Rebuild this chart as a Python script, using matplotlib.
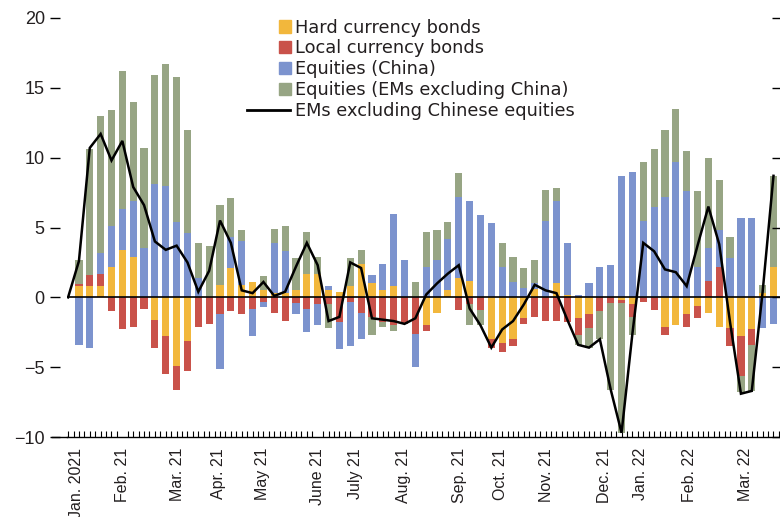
import matplotlib
matplotlib.use("Agg")
import matplotlib.pyplot as plt
import numpy as np
from matplotlib.patches import Patch, Rectangle
from matplotlib.lines import Line2D
from matplotlib.legend_handler import HandlerPatch

# ---- data (weekly, index 0 = start, no bar) ----
weeks = list(range(66))
hard_ccy = [0, 0.8, 0.8, 0.8, 2.2, 3.4, 2.9, 0.0, -1.6, -2.8, -4.9, -3.1, 0.0, 0.0, 0.9, 2.1,
            0.9, 1.1, 0.5, 0.3, 0.3, 0.5, 1.7, 1.7, 0.5, 0.4, 0.8, 2.4, 1.0, 0.5, 0.8, 0.0,
            0.0, -2.0, -1.1, 0.55, 1.4, 1.2, 0.0, -3.0, -3.3, -3.0, -1.5, 0.6, 0.0, 1.0, 0.2,
            -1.5, -1.2, 0.0, 0.0, -0.2, -0.5, 0.0, 0.0, -2.1, -2.0, -1.2, -0.6, -1.1, -2.1,
            -2.2, -2.8, -2.3, 0.3, 2.2]
local_ccy = [0, 0.15, 0.8, 0.9, -1.0, -2.3, -2.1, -0.8, -2.0, -2.7, -1.7, -2.2, -2.1, -1.9, -1.2, -1.0,
             -1.2, -0.8, -0.3, -1.1, -1.7, -0.4, -0.8, -0.5, -0.5, -1.8, -0.3, -1.1, -1.4, -1.8, -2.0, -1.9,
             -2.6, -0.4, 0.0, 0.0, -0.9, -0.5, -0.9, -0.6, -0.6, -0.5, -0.4, -1.4, -1.7, -1.7, -1.8,
             -1.2, -1.0, -1.0, -0.4, -0.2, -0.9, -0.3, -0.9, -0.6, 0.0, -0.9, -0.9, 1.2, 2.2,
             -1.3, -2.8, -1.1, 0.0, 0.0]
eq_china = [0, -3.4, -3.6, 1.5, 2.9, 2.9, 4.0, 3.5, 8.1, 8.0, 5.4, 4.6, 1.4, 0.0, -3.9, 2.2,
            3.1, -2.0, -0.4, 3.6, 3.0, -0.8, -1.7, -1.5, 0.3, -1.9, -3.2, -1.9, 0.6, 1.9, 5.2, 2.7,
            -2.4, 2.2, 2.7, 3.65, 5.8, 5.7, 5.9, 5.3, 2.2, 1.1, 0.7, 0.4, 5.5, 5.9, 3.7,
            0.2, 1.0, 2.2, 2.3, 8.7, 9.0, 5.5, 6.5, 7.2, 9.7, 7.6, 2.2, 2.3, 2.6,
            2.8, 5.7, 5.7, -2.2, -1.9]
eq_em_ex_china = [0, 1.75, 9.0, 9.8, 8.3, 9.9, 7.1, 7.2, 7.8, 8.7, 10.4, 7.4, 2.5, 3.7, 5.7, 2.8,
                  0.8, 0.0, 1.0, 1.0, 1.8, 2.3, 3.0, 1.2, -1.7, 0.0, 2.0, 1.0, -1.3, -0.3, -0.4, 0.0,
                  1.1, 2.5, 2.1, 1.2, 1.7, -1.5, -1.1, 0.0, 1.7, 1.8, 1.4, 1.7, 2.2, 0.9, 0.0,
                  -0.7, -1.4, -2.0, -6.2, -9.3, -1.3, 4.2, 4.1, 4.8, 3.8, 2.9, 5.4, 6.5, 3.6,
                  1.5, -1.2, -3.3, 0.6, 6.5]
em_ex_china_eq = [0, 2.6, 10.7, 11.7, 9.8, 11.2, 7.9, 6.6, 4.0, 3.4, 3.7, 2.5, 0.4, 1.9, 5.5, 3.9,
                  0.5, 0.3, 1.1, 0.1, 0.4, 2.2, 3.9, 2.3, -1.7, -1.4, 2.5, 2.1, -1.5, -1.6, -1.7, -1.9,
                  -1.5, 0.2, 1.0, 1.7, 2.3, -0.8, -2.0, -3.6, -2.3, -1.7, -0.5, 0.9, 0.5, 0.3, -1.6,
                  -3.4, -3.6, -3.0, -6.6, -9.7, -2.6, 3.9, 3.3, 2.0, 1.8, 0.8, 3.7, 6.5, 3.8,
                  -1.8, -6.9, -6.7, 0.4, 8.7]

month_labels = ["Jan. 2021", "Feb. 21", "Mar. 21", "Apr. 21", "May 21", "June 21", "July 21",
                "Aug. 21", "Sep. 21", "Oct. 21", "Nov. 21", "Dec. 21", "Jan. 22", "Feb. 22", "Mar. 22"]
month_pos = [0.8, 5.0, 10.1, 13.9, 17.9, 23.0, 26.5, 30.9, 36.1, 39.8, 44.1, 49.4, 52.7, 57.3, 62.4]
y_ticks = [-10, -5, 0, 5, 10, 15, 20]
y_ticklabels = ["\u221210", "\u22125", "0", "5", "10", "15", "20"]

series_names = ["Hard currency bonds", "Local currency bonds", "Equities (China)",
                "Equities (EMs excluding China)"]
line_name = "EMs excluding Chinese equities"
colors = ["#F2B73C", "#C9524A", "#7C93CE", "#97A584"]

W, H = 780, 517
fig = plt.figure(figsize=(W / 100, H / 100), dpi=100)
rect = [67 / W, (H - 437) / H, (W - 67) / W, (437 - 18) / H]
ax = fig.add_axes(rect)

x = np.array(weeks[1:])
pos_bottom = np.zeros(len(x))
neg_bottom = np.zeros(len(x))
for vals, col in zip([hard_ccy, local_ccy, eq_china, eq_em_ex_china], colors):
    v = np.array(vals[1:], dtype=float)
    p = np.where(v > 0, v, 0)
    n = np.where(v < 0, v, 0)
    ax.bar(x, p, bottom=pos_bottom, width=0.66, color=col, linewidth=0, zorder=2)
    ax.bar(x, n, bottom=neg_bottom, width=0.66, color=col, linewidth=0, zorder=2)
    pos_bottom += p
    neg_bottom += n

ax.axhline(0, color="black", lw=1.2, zorder=3)
ax.plot(weeks, em_ex_china_eq, color="black", lw=1.8, zorder=4, solid_joinstyle="miter")

ax.set_xlim(-0.1, 65.6)
ax.set_ylim(-10, 20)
for s in ["top", "right", "left"]:
    ax.spines[s].set_visible(False)
ax.spines["left"].set_position(("outward", 5))
ax.spines["bottom"].set_linewidth(1.0)
# extend bottom axis line to the left tick
ax.plot([-15 / 10.85 - 0.1, -0.1], [-10, -10], color="black", lw=1.0, clip_on=False, zorder=3)

ax.set_yticks(y_ticks)
ax.set_yticklabels(y_ticklabels)
ax.tick_params(axis="y", which="major", left=True, right=False, direction="out", length=7,
               width=1, pad=4, labelsize=13, labelcolor="#231F20")
ax.set_xticks(month_pos)
ax.set_xticklabels(month_labels, rotation=90, fontsize=11.5, color="#231F20")
ax.tick_params(axis="x", which="major", length=0, pad=8)
ax.set_xticks(np.arange(0, 65.6, 0.5), minor=True)
ax.tick_params(axis="x", which="minor", direction="in", length=4, width=0.8)

for lbl in ax.get_xticklabels() + ax.get_yticklabels():
    lbl.set_family(["Liberation Sans Narrow", "Liberation Sans", "DejaVu Sans"])

# right-side inward ticks
ax2 = ax.twinx()
ax2.set_ylim(-10, 20)
ax2.set_yticks(y_ticks)
ax2.tick_params(axis="y", direction="in", length=6, width=1, labelright=False)
for s in ax2.spines.values():
    s.set_visible(False)

def square_patch(legend, orig_handle, xdescent, ydescent, width, height, fontsize):
    s = height * 1.0
    return Rectangle((width - s - xdescent + 1, -ydescent + (height - s) / 2), s, s)

handles = [Patch(color=c) for c in colors] + [Line2D([0], [0], color="black", lw=2)]
labels = series_names + [line_name]
leg = ax.legend(handles, labels, loc="upper left", bbox_to_anchor=(171 / 713, 1.02),
                frameon=False, prop={"family": "DejaVu Sans", "size": 12.8},
                handlelength=2.4, handletextpad=0.3, labelspacing=0.16, borderpad=0,
                handler_map={Patch: HandlerPatch(patch_func=square_patch)})
for t in leg.get_texts():
    t.set_color("#231F20")

fig.savefig("out.png", dpi=100)
